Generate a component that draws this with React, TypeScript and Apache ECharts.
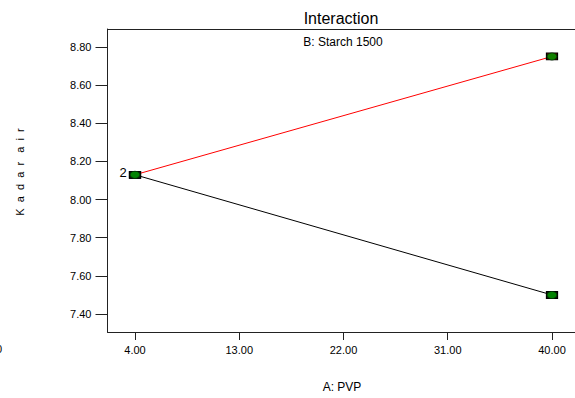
import React, { useEffect, useRef } from "react";
import * as echarts from "echarts";

const xTicks = [4, 13, 22, 31, 40];
const yTicks = [7.4, 7.6, 7.8, 8.0, 8.2, 8.4, 8.6, 8.8];
const redSeries: [number, number][] = [[4, 8.13], [40, 8.75]];
const blackSeries: [number, number][] = [[4, 8.13], [40, 7.5]];
const designPoints: [number, number][] = [[4, 8.13], [40, 8.75], [40, 7.5]];

const FONT = "Liberation Sans, Arial, sans-serif";
const X_MIN = 1.626;
const X_MAX = 41.986;

export default function App() {
  const ref = useRef<HTMLDivElement>(null);
  useEffect(() => {
    if (!ref.current) return;
    const chart = echarts.init(ref.current, null, { renderer: "svg" });
    chart.setOption({
      animation: false,
      backgroundColor: "#fff",
      grid: {
        left: 107.5,
        top: 29,
        right: 0,
        bottom: 66,
        show: false,
      },
      xAxis: [
        {
          type: "value",
          min: X_MIN,
          max: X_MAX,
          axisLine: { show: true, lineStyle: { color: "#222", width: 1 } },
          axisTick: { show: true, length: 8, customValues: xTicks, lineStyle: { color: "#222" } },
          axisLabel: {
            customValues: xTicks,
            formatter: (v: number) => v.toFixed(2),
            fontFamily: FONT,
            fontSize: 11,
            color: "#000",
            margin: 12,
          },
          splitLine: { show: false },
        },
        {
          type: "value",
          position: "top",
          min: X_MIN,
          max: X_MAX,
          axisLine: { show: true, lineStyle: { color: "#222", width: 1 } },
          axisTick: { show: false },
          axisLabel: { show: false },
          splitLine: { show: false },
        },
      ],
      yAxis: {
        type: "value",
        min: 7.306,
        max: 8.894,
        axisLine: { show: true, lineStyle: { color: "#222", width: 1 } },
        axisTick: { show: true, length: 12, customValues: yTicks, lineStyle: { color: "#222" } },
        axisLabel: {
          customValues: yTicks,
          formatter: (v: number) => v.toFixed(2),
          fontFamily: FONT,
          fontSize: 11,
          color: "#000",
          margin: 16,
        },
        splitLine: { show: false },
      },
      graphic: [
        {
          type: "text",
          x: 341,
          y: 18,
          style: {
            text: "Interaction",
            fontFamily: FONT,
            fontSize: 16,
            fill: "#000",
            align: "center",
            verticalAlign: "middle",
          },
        },
        {
          type: "text",
          x: 343,
          y: 42,
          style: {
            text: "B: Starch 1500",
            fontFamily: FONT,
            fontSize: 12,
            fill: "#000",
            align: "center",
            verticalAlign: "middle",
          },
        },
        {
          type: "text",
          x: 342,
          y: 387,
          style: {
            text: "A: PVP",
            fontFamily: FONT,
            fontSize: 12,
            fill: "#000",
            align: "center",
            verticalAlign: "middle",
          },
        },
        {
          type: "text",
          x: 20,
          y: 172,
          rotation: Math.PI / 2,
          style: {
            text: "K  a  d  a  r   a  i  r",
            fontFamily: FONT,
            fontSize: 11,
            fill: "#000",
            align: "center",
            verticalAlign: "middle",
          },
        },
        {
          type: "text",
          x: -4,
          y: 349,
          style: {
            text: "0",
            fontFamily: FONT,
            fontSize: 11,
            fill: "#000",
            align: "left",
            verticalAlign: "middle",
          },
        },
        {
          type: "text",
          x: 123,
          y: 172,
          style: {
            text: "2",
            fontFamily: FONT,
            fontSize: 13,
            fill: "#000",
            align: "center",
            verticalAlign: "middle",
          },
        },
      ],
      series: [
        {
          type: "line",
          data: redSeries,
          lineStyle: { color: "#ff0000", width: 1 },
          symbol: "rect",
          symbolSize: [11, 7],
          itemStyle: { color: "#5a0000", borderColor: "#000", borderWidth: 1 },
          z: 2,
        },
        {
          type: "line",
          data: blackSeries,
          lineStyle: { color: "#000", width: 1 },
          symbol: "rect",
          symbolSize: [11, 7],
          itemStyle: { color: "#111", borderColor: "#000", borderWidth: 1 },
          z: 3,
        },
        {
          type: "scatter",
          data: designPoints,
          symbol: "circle",
          symbolSize: [10, 7],
          itemStyle: { color: "#00a000", borderColor: "#003300", borderWidth: 1 },
          z: 4,
        },
      ],
    });
    return () => chart.dispose();
  }, []);
  return <div ref={ref} style={{ width: 575, height: 398, position: "absolute", left: 0, top: 0 }} />;
}
